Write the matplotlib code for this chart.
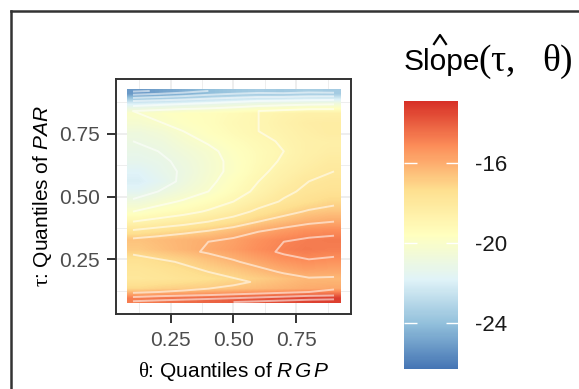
import matplotlib
matplotlib.use('Agg')
import matplotlib.pyplot as plt
import numpy as np
from matplotlib.colors import LinearSegmentedColormap
from matplotlib.lines import Line2D

plt.rcParams['font.family'] = ['Liberation Sans', 'DejaVu Sans']
plt.rcParams['mathtext.fontset'] = 'custom'
plt.rcParams['mathtext.rm'] = 'Liberation Serif'
plt.rcParams['mathtext.it'] = 'Liberation Sans:italic'

# 数据：theta 列, tau 行（自上而下读取）
theta = np.array([0.1, 0.2, 0.3, 0.4, 0.5, 0.6, 0.7, 0.8, 0.9])
tau = np.array([0.92, 0.88, 0.84, 0.80, 0.76, 0.72, 0.68, 0.64, 0.60, 0.56, 0.52,
                0.48, 0.44, 0.40, 0.36, 0.32, 0.28, 0.24, 0.20, 0.16, 0.12, 0.08])
slope = np.array([
    [-25.2, -24.9, -24.5, -24.0, -23.7, -23.5, -23.6, -23.4, -23.5],
    [-22.0, -21.8, -21.6, -21.4, -21.2, -21.0, -20.9, -20.8, -20.7],
    [-20.0, -19.8, -19.6, -19.5, -19.3, -19.0, -18.8, -18.6, -18.6],
    [-20.3, -20.0, -19.7, -19.5, -19.2, -19.0, -18.7, -18.4, -18.3],
    [-20.8, -20.5, -20.0, -19.6, -19.3, -19.0, -18.8, -18.5, -18.3],
    [-21.0, -20.8, -20.3, -19.9, -19.5, -19.2, -18.9, -18.6, -18.5],
    [-21.2, -21.0, -20.6, -20.2, -19.7, -19.3, -19.0, -18.6, -18.4],
    [-21.4, -21.2, -20.8, -20.3, -19.8, -19.3, -18.9, -18.5, -18.2],
    [-21.8, -21.3, -20.9, -20.3, -19.8, -19.2, -18.7, -18.3, -18.0],
    [-22.0, -21.5, -20.8, -20.2, -19.6, -19.0, -18.5, -18.0, -17.8],
    [-21.6, -21.0, -20.5, -20.0, -19.4, -18.8, -18.2, -17.8, -17.6],
    [-20.8, -20.3, -19.9, -19.5, -19.0, -18.4, -17.9, -17.5, -17.2],
    [-20.0, -19.6, -19.3, -18.9, -18.4, -17.8, -17.3, -16.9, -16.7],
    [-19.0, -18.7, -18.4, -18.0, -17.6, -17.0, -16.6, -16.2, -16.0],
    [-17.8, -17.5, -17.2, -16.9, -16.5, -16.0, -15.6, -15.3, -15.2],
    [-16.6, -16.4, -16.2, -16.0, -15.7, -15.3, -15.0, -14.8, -14.7],
    [-16.8, -16.5, -16.2, -15.9, -15.6, -15.2, -14.9, -14.7, -14.8],
    [-17.5, -17.2, -16.9, -16.5, -16.1, -15.7, -15.3, -15.1, -15.2],
    [-17.8, -17.6, -17.3, -17.0, -16.7, -16.3, -15.9, -15.6, -15.7],
    [-17.9, -17.8, -17.6, -17.4, -17.2, -16.9, -16.6, -16.3, -16.3],
    [-17.2, -17.0, -16.9, -16.8, -16.6, -16.4, -16.2, -16.0, -15.9],
    [-14.8, -14.6, -14.4, -14.2, -14.0, -13.8, -13.6, -13.4, -13.3],
])
vmin, vmax = -26.3, -12.9
cbar_ticks = [-24, -20, -16]
axis_ticks = [0.25, 0.50, 0.75]

cmap = LinearSegmentedColormap.from_list(
    'rdylbu7', ['#4575b4', '#91bfdb', '#e0f3f8', '#ffffbf', '#fee090', '#fc8d59', '#d73027'])

fig = plt.figure(figsize=(5.79, 3.89), dpi=100)
ax = fig.add_axes([116 / 579, 1 - 314 / 389, 235 / 579, 235 / 389])

# 网格 (theme_bw)
for v in [0.125, 0.375, 0.625, 0.875]:
    ax.axvline(v, color='#ebebeb', lw=0.6, zorder=0)
    ax.axhline(v, color='#ebebeb', lw=0.6, zorder=0)
for v in axis_ticks:
    ax.axvline(v, color='#ebebeb', lw=1.2, zorder=0)
    ax.axhline(v, color='#ebebeb', lw=1.2, zorder=0)

im = ax.imshow(slope, cmap=cmap, vmin=vmin, vmax=vmax, aspect='auto',
               extent=(0.075, 0.925, 0.075, 0.925), interpolation='bilinear', zorder=1)
TT, AA = np.meshgrid(theta, tau)
ax.contour(TT, AA, slope, levels=np.arange(-26, -12, 1), colors='white',
           linewidths=1.4, linestyles='solid', alpha=0.55, zorder=2)

ax.set_xlim(0.0325, 0.9675)
ax.set_ylim(0.0325, 0.9675)
ax.set_xticks(axis_ticks)
ax.set_yticks(axis_ticks)
ax.set_xticklabels(['0.25', '0.50', '0.75'])
ax.set_yticklabels(['0.25', '0.50', '0.75'])
ax.tick_params(length=6.5, width=1.4, color='#333333', labelcolor='#4d4d4d',
               labelsize=15)
ax.tick_params(axis='x', pad=6)
ax.tick_params(axis='y', pad=5)
for s in ax.spines.values():
    s.set_color('#333333')
    s.set_linewidth(1.4)

ax.set_xlabel(r'$\mathrm{\theta}$: Quantiles of $\mathit{R\,G\,P}$', fontsize=15, labelpad=7)
ax.set_ylabel(r'$\mathrm{\tau}$: Quantiles of $\mathit{PAR}$', fontsize=15, labelpad=4)

# 颜色条
cax = fig.add_axes([404 / 579, 1 - 369 / 389, 54 / 579, 268 / 389])
cb = fig.colorbar(im, cax=cax, ticks=cbar_ticks)
cb.outline.set_visible(False)
cax.tick_params(direction='in', length=9, width=1, color='white', left=True, right=True,
                labelright=True, labelleft=False, labelsize=16, labelcolor='#1a1a1a', pad=12)
cb.set_ticklabels(['-24', '-20', '-16'])

# 图例标题
fig.text(404 / 579, 1 - 70 / 389, 'Slope', fontsize=21.5, ha='left', va='baseline')
fig.add_artist(Line2D([434 / 579, 440 / 579, 446 / 579],
                      [1 - 44 / 389, 1 - 35 / 389, 1 - 44 / 389], color='black', lw=1.6))
fig.text(478 / 579, 1 - 71 / 389, r'$\mathrm{(\tau,\ \ \theta)}$', fontsize=27,
         ha='left', va='baseline')

# 外框
fig.add_artist(Line2D([11 / 579, 11 / 579], [0, 1 - 11 / 389], color='#333333', lw=1.8))
fig.add_artist(Line2D([11 / 579, 1], [1 - 11 / 389, 1 - 11 / 389], color='#333333', lw=1.8))

fig.savefig('out.png', dpi=100)
